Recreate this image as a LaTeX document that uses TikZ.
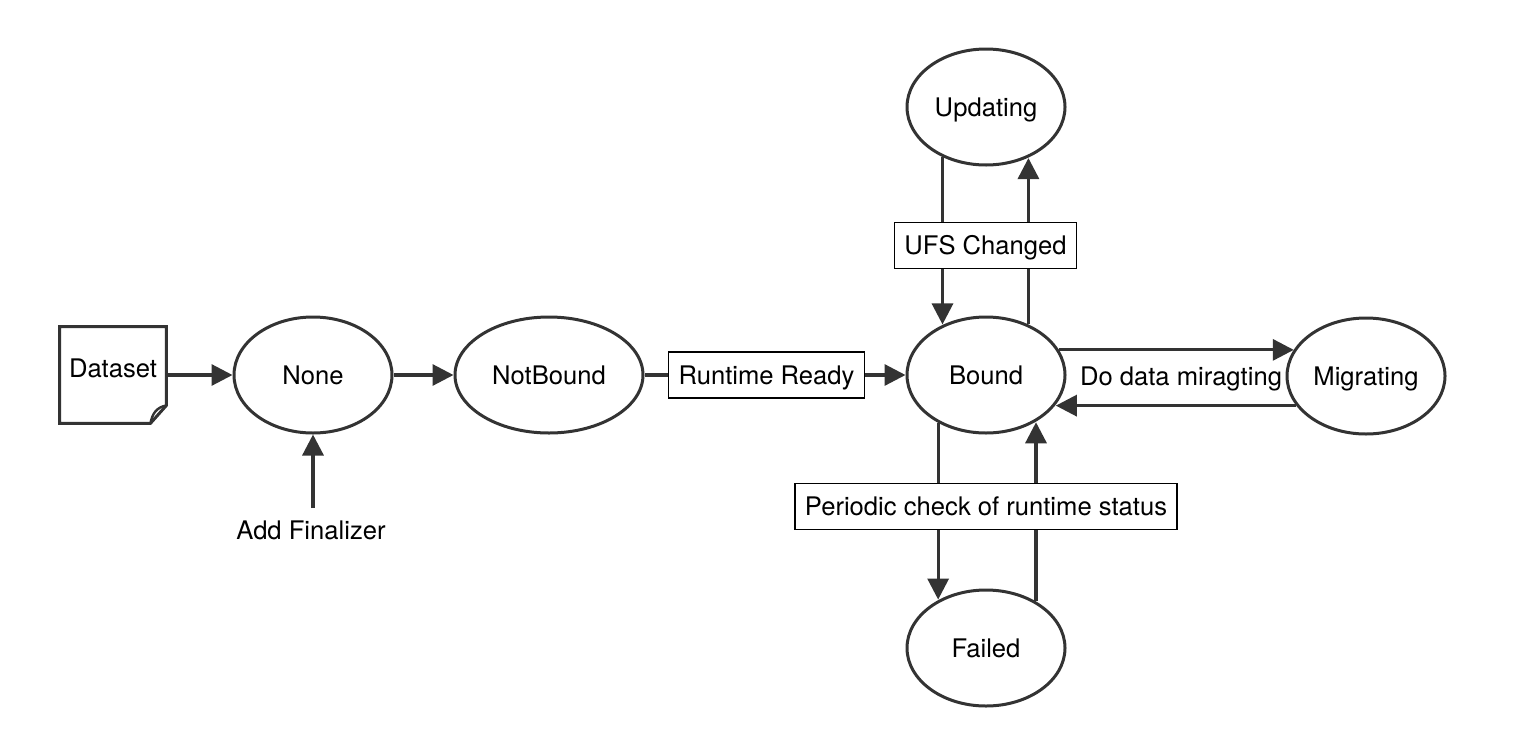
\documentclass[tikz,border=0pt]{standalone}
\usepackage{fontspec}
\setmainfont{TeX Gyre Heros}
\usetikzlibrary{arrows.meta,shapes.geometric,calc}
\definecolor{ln}{HTML}{333333}
\begin{document}
\begin{tikzpicture}[x=0.5pt,y=-0.5pt,
  font=\fontsize{12.8}{15}\selectfont,
  captext/.style={text height=9.2pt,text depth=0pt},
  state/.style={ellipse,draw=ln,line width=1.5pt,minimum width=79pt,minimum height=58pt,inner sep=0pt,captext},
  conn/.style={draw=ln,line width=1.6pt,-{Triangle[length=10.5pt,width=10.5pt]}},
  lbl/.style={draw=black,line width=0.6pt,fill=white,inner sep=0pt,minimum height=23pt,inner xsep=5pt,captext},
  txt/.style={inner sep=0pt,captext}]
\fill[white] (0,0) rectangle (1520,750);
\useasboundingbox (0,0) rectangle (1520,750);

% Dataset document
\node[minimum width=53pt,minimum height=48pt,inner sep=0pt] (ds) at (113,375) {};
\draw[ln,line width=1.5pt,line join=miter] (ds.north west) -- (ds.north east) -- ($(ds.south east)+(0,9pt)$) -- ($(ds.south east)+(-8pt,0)$) -- (ds.south west) -- cycle;
\draw[ln,line width=1.2pt] ($(ds.south east)+(0,9pt)$) .. controls ($(ds.south east)+(-5pt,8pt)$) and ($(ds.south east)+(-7pt,5pt)$) .. ($(ds.south east)+(-8pt,0)$);
\node[txt] (dst) at (113,368) {Dataset};

% states
\node[state] (None) at (313,375) {None};
\node[state,minimum width=94pt] (NotBound) at (549,375) {NotBound};
\node[state] (Bound) at (986,375) {Bound};
\node[state] (Updating) at (986,107) {Updating};
\node[state] (Migrating) at (1366,376) {Migrating};
\node[state] (Failed) at (986,648) {Failed};

% connectors
\draw[conn] (ds.east) -- (None.west);
\draw[conn] (None.east) -- (NotBound.west);
\draw[conn] (NotBound.east) -- (Bound.west);
\node[lbl] (rr) at (766.5,375) {Runtime Ready};

\draw[conn] (Updating.229.5) -- (Updating.229.5 |- Bound.130.5);
\draw[conn] (Bound.50.4) -- (Bound.50.4 |- Updating.309.6);
\node[lbl] (ufs) at (985.5,245.5) {UFS Changed};

\draw[conn] (Bound.19.3) -- (Bound.19.3 -| Migrating.160.6);
\draw[conn] (Migrating.203) -- (Migrating.203 -| Bound.337);
\node[txt] (ddm) at (1181,376) {Do data miragting};

\draw[conn] (Bound.225.7) -- (Bound.225.7 |- Failed.134.3);
\draw[conn] (Failed.43.8) -- (Failed.43.8 |- Bound.316.2);
\node[lbl] (pc) at (986,506.5) {Periodic check of runtime status};

\coordinate (finstart) at (313,508);
\node[txt] (fin) at (311,530) {Add Finalizer};
\draw[conn] (finstart) -- (None.south);
\end{tikzpicture}
\end{document}
